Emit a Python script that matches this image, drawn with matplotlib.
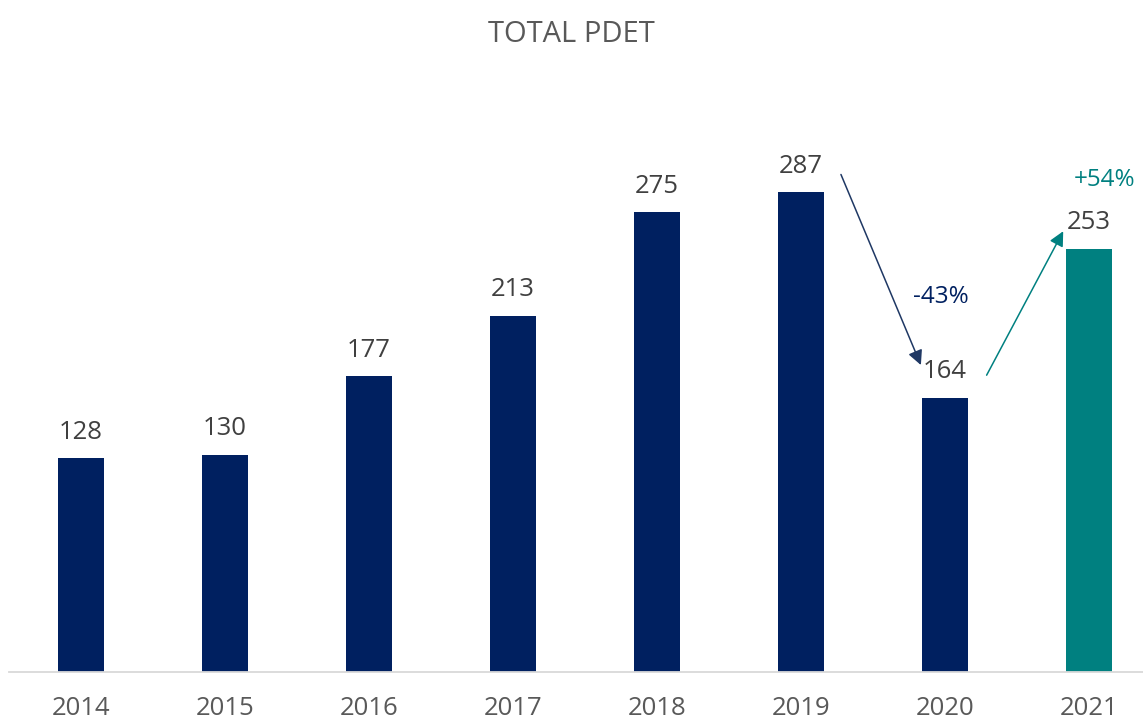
import numpy as np
import matplotlib.pyplot as plt

plt.rcParams['font.family'] = ['Open Sans', 'DejaVu Sans']

years = ['2014', '2015', '2016', '2017', '2018', '2019', '2020', '2021']
totals = [128, 130, 177, 213, 275, 287, 164, 253]
bar_colors = ['#002060'] * 7 + ['#008080']
change_labels = ['-43%', '+54%']

fig = plt.figure(figsize=(11.43, 7.21), dpi=100)
ax = fig.add_axes([9 / 1143, 49 / 721, 1134 / 1143, 572 / 721])

x = np.arange(len(years))
ax.bar(x, totals, width=0.32, color=bar_colors, zorder=2)
for xi, v in zip(x, totals):
    ax.text(xi, v + 8, str(v), ha='center', va='bottom', fontsize=18.5, color='#404040')

ax.set_xlim(-0.5, 7.375)
ax.set_ylim(0, 342)
ax.set_xticks(x)
ax.set_xticklabels(years, fontsize=18.5, color='#595959')
ax.tick_params(axis='x', length=0, pad=17)
ax.set_yticks([])
for s in ['top', 'right', 'left']:
    ax.spines[s].set_visible(False)
ax.spines['bottom'].set_color('#d9d9d9')
ax.spines['bottom'].set_linewidth(1.3)

# Pfeile fuer die Veraenderung
ax.annotate('', xy=(5.84, 182), xytext=(5.27, 299),
            arrowprops=dict(arrowstyle='-|>', color='#1f3864', lw=1.1, mutation_scale=22))
ax.annotate('', xy=(6.83, 265), xytext=(6.28, 176),
            arrowprops=dict(arrowstyle='-|>', color='#008080', lw=1.1, mutation_scale=22))
ax.text(5.97, 224, change_labels[0], ha='center', va='center', fontsize=17.5, color='#002060')
ax.text(7.11, 294, change_labels[1], ha='center', va='center', fontsize=17.5, color='#008080')

fig.text(0.5, 1 - 34 / 721, 'TOTAL PDET', ha='center', va='center', fontsize=21, color='#595959')

fig.savefig('out.png', dpi=100)
